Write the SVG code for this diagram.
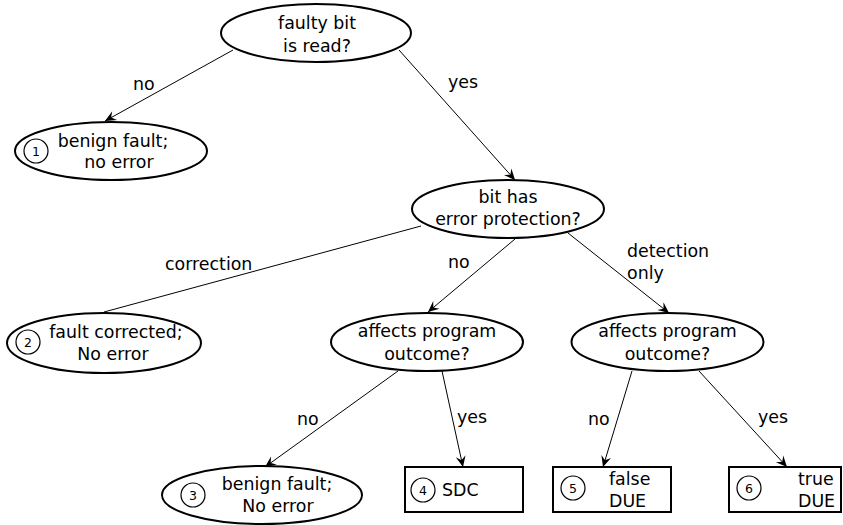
<svg xmlns="http://www.w3.org/2000/svg" width="843" height="525" viewBox="0 0 843 525">
<style>
text{font-family:"DejaVu Sans","Liberation Sans",sans-serif;font-size:17.4px;fill:#000}
.c{text-anchor:middle}
.num{font-size:12.5px;text-anchor:middle}
.node{fill:#fff;stroke:#000;stroke-width:2}
.badge{fill:none;stroke:#000;stroke-width:1.2}
.edge{fill:none;stroke:#000;stroke-width:1}
</style>
<defs>
<marker id="arr" viewBox="-12 -6 13 12" refX="0" refY="0" markerWidth="13" markerHeight="12" markerUnits="userSpaceOnUse" orient="auto">
<path d="M0,0 L-11,-5 L-7,0 L-11,5 Z" fill="#000"/>
</marker>
</defs>
<rect width="843" height="525" fill="#fff"/>
<g id="connectors">
<line class="edge" x1="233" y1="50" x2="105" y2="121" marker-end="url(#arr)"/>
<line class="edge" x1="399" y1="50" x2="515" y2="180" marker-end="url(#arr)"/>
<line class="edge" x1="421" y1="226" x2="104" y2="312"/>
<line class="edge" x1="515" y1="239" x2="428" y2="312" marker-end="url(#arr)"/>
<line class="edge" x1="568" y1="233" x2="669" y2="313" marker-end="url(#arr)"/>
<line class="edge" x1="398" y1="371" x2="265" y2="467" marker-end="url(#arr)"/>
<line class="edge" x1="442" y1="371" x2="463" y2="467" marker-end="url(#arr)"/>
<line class="edge" x1="632" y1="371" x2="603" y2="467" marker-end="url(#arr)"/>
<line class="edge" x1="699" y1="371" x2="787" y2="467" marker-end="url(#arr)"/>
<text x="133" y="90">no</text>
<text x="448" y="88">yes</text>
<text x="165" y="270">correction</text>
<text x="448" y="268">no</text>
<text x="627" y="257">detection</text>
<text x="627" y="279">only</text>
<text x="297" y="425">no</text>
<text x="457" y="423">yes</text>
<text x="588" y="425">no</text>
<text x="758" y="423">yes</text>
</g>
<g id="faulty-bit-read">
<ellipse class="node" cx="316" cy="33" rx="95" ry="29"/>
<text class="c" x="317" y="29">faulty bit</text>
<text class="c" x="317" y="52">is read?</text>
</g>
<g id="outcome1">
<ellipse class="node" cx="111" cy="151" rx="96" ry="29"/>
<circle class="badge" cx="36" cy="151" r="12"/>
<text class="num" x="36" y="155.5">1</text>
<text class="c" x="113" y="147">benign fault;</text>
<text class="c" x="119" y="168">no error</text>
</g>
<g id="bit-has-protection">
<ellipse class="node" cx="508" cy="209" rx="96" ry="29"/>
<text class="c" x="508" y="203">bit has</text>
<text class="c" x="508" y="225">error protection?</text>
</g>
<g id="outcome2">
<ellipse class="node" cx="104" cy="343" rx="97" ry="30"/>
<circle class="badge" cx="28" cy="342" r="12"/>
<text class="num" x="28" y="346.5">2</text>
<text class="c" x="116" y="338">fault corrected;</text>
<text class="c" x="113" y="360">No error</text>
</g>
<g id="affects-left">
<ellipse class="node" cx="427" cy="342" rx="96" ry="29"/>
<text class="c" x="427" y="337">affects program</text>
<text class="c" x="427" y="360">outcome?</text>
</g>
<g id="affects-right">
<ellipse class="node" cx="667.5" cy="342" rx="96" ry="29"/>
<text class="c" x="667.5" y="337">affects program</text>
<text class="c" x="667.5" y="360">outcome?</text>
</g>
<g id="outcome3">
<ellipse class="node" cx="262" cy="495" rx="100" ry="29"/>
<circle class="badge" cx="193" cy="495" r="12"/>
<text class="num" x="193" y="499.5">3</text>
<text class="c" x="277" y="490">benign fault;</text>
<text class="c" x="278" y="512">No error</text>
</g>
<g id="outcome4">
<rect class="node" x="405" y="467" width="118" height="45"/>
<circle class="badge" cx="423" cy="490" r="12"/>
<text class="num" x="423" y="494.5">4</text>
<text x="442" y="496">SDC</text>
</g>
<g id="outcome5">
<rect class="node" x="553" y="467" width="118" height="45"/>
<circle class="badge" cx="573" cy="488" r="12"/>
<text class="num" x="573" y="492.5">5</text>
<text x="609" y="485">false</text>
<text x="609" y="507">DUE</text>
</g>
<g id="outcome6">
<rect class="node" x="729" y="467" width="112" height="45"/>
<circle class="badge" cx="749" cy="488" r="12"/>
<text class="num" x="749" y="492.5">6</text>
<text x="798" y="485">true</text>
<text x="798" y="507">DUE</text>
</g>
</svg>
